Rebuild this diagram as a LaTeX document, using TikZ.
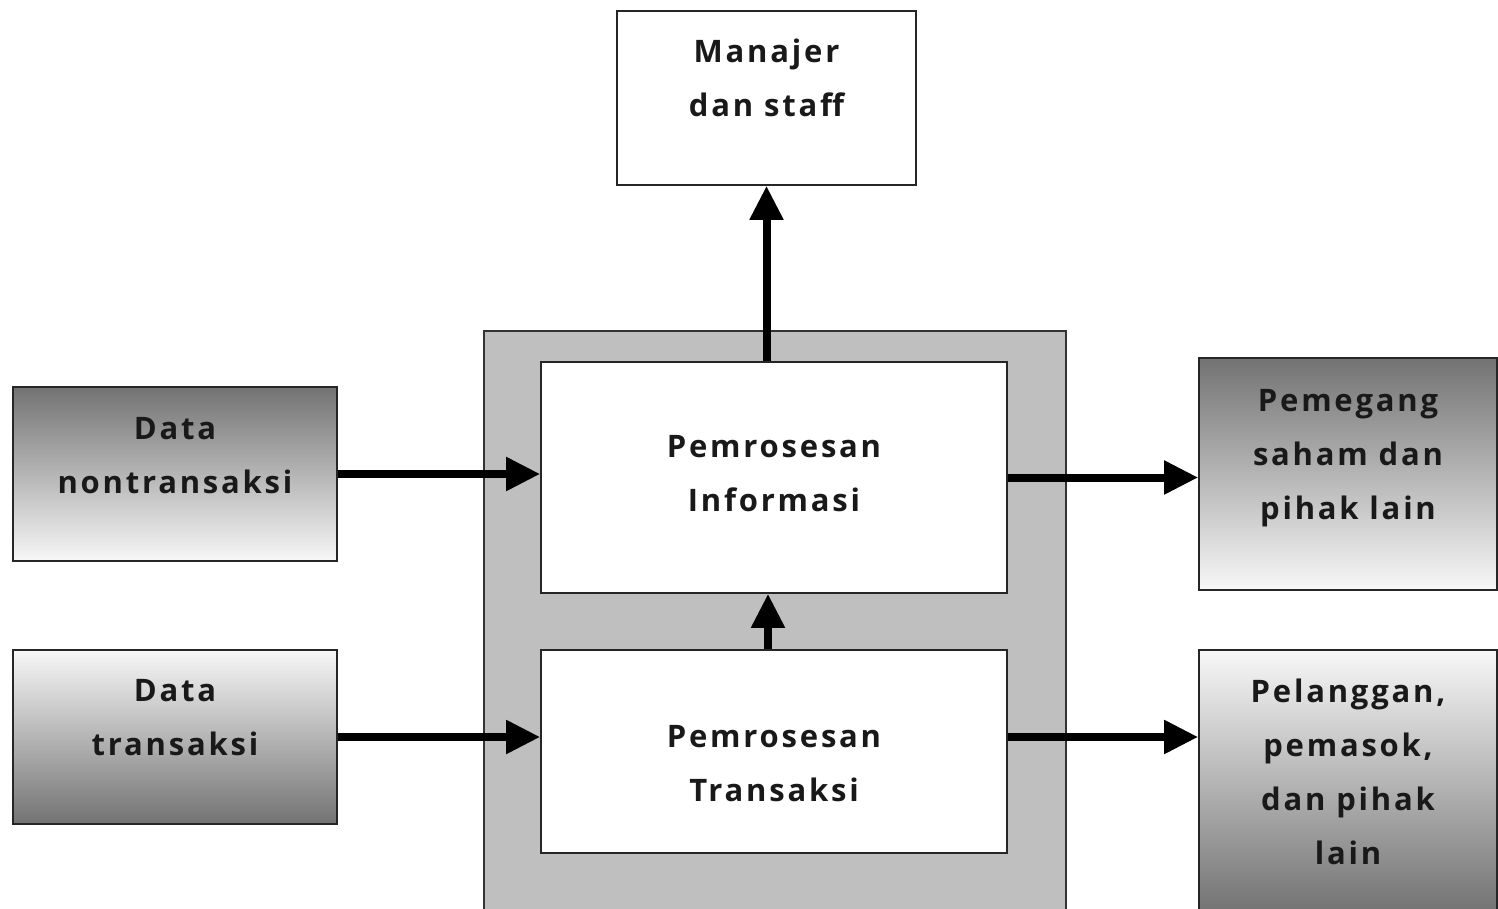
\documentclass[tikz,border=0pt]{standalone}
\usepackage{fontspec}
\setmainfont[LetterSpace=9]{Open Sans}
\usetikzlibrary{arrows.meta}
\begin{document}
\begin{tikzpicture}[x=1pt,y=-1pt,
  txt/.style={font=\fontsize{31}{54}\selectfont\bfseries, align=center, text=black!90, inner sep=0pt},
  wbox/.style={draw=black!85, line width=1.6pt, fill=white, inner sep=0pt},
  gdown/.style={draw=black!85, line width=1.6pt, inner sep=0pt, top color=black!55, bottom color=white!97!black},
  gup/.style={draw=black!85, line width=1.6pt, inner sep=0pt, top color=white!97!black, bottom color=black!55},
  arr/.style={line width=8pt, -{Triangle[length=34pt,width=32pt]}, black}
]
\useasboundingbox (0,0) rectangle (1498,909);
\fill[white] (0,0) rectangle (1498,909);
\node[draw=black!80, line width=1.6pt, fill=black!25, minimum width=582pt, minimum height=581pt, inner sep=0pt] (outer) at (775,621.5) {};
\node[wbox, minimum width=299pt, minimum height=174pt] (mj) at (766.5,98) {};
\node[wbox, minimum width=466pt, minimum height=231pt] (pi) at (774,477.5) {};
\node[wbox, minimum width=466pt, minimum height=203pt] (pt) at (774,751.5) {};
\node[gdown, minimum width=324pt, minimum height=174pt] (dn) at (175,474) {};
\node[gup, minimum width=324pt, minimum height=174pt] (dt) at (175,737) {};
\node[gdown, minimum width=298pt, minimum height=232pt] (ps) at (1348,474) {};
\node[gup, minimum width=298pt, minimum height=262pt] (pl) at (1348,781) {};
\node[txt] (mjt) at ([yshift=20pt]mj.center) {Manajer\\dan staff};
\node[txt] (pit) at ([yshift=3.5pt]pi.center) {Pemrosesan\\Informasi};
\node[txt] (ptt) at ([yshift=-12pt]pt.center) {Pemrosesan\\Transaksi};
\node[txt] (dnt) at ([yshift=18pt]dn.center) {Data\\nontransaksi};
\node[txt] (dtt) at ([yshift=19.5pt]dt.center) {Data\\transaksi};
\node[txt] (pst) at ([yshift=16pt]ps.center) {Pemegang\\saham dan\\pihak lain};
\node[txt] (plt) at ([yshift=9.5pt]pl.center) {Pelanggan,\\pemasok,\\dan pihak\\lain};
\draw[arr] (pi.north -| mj) -- (mj.south);
\draw[arr] (dn) -- (dn -| pi.west);
\draw[arr] (dt) -- (dt -| pt.west);
\draw[arr] (pt.north -| 768,0) -- (pi.south -| 768,0);
\draw[arr] (pi.east) -- (pi.east -| ps.west);
\draw[arr] (pt.east |- dt) -- (pl.west |- dt);
\end{tikzpicture}
\end{document}
